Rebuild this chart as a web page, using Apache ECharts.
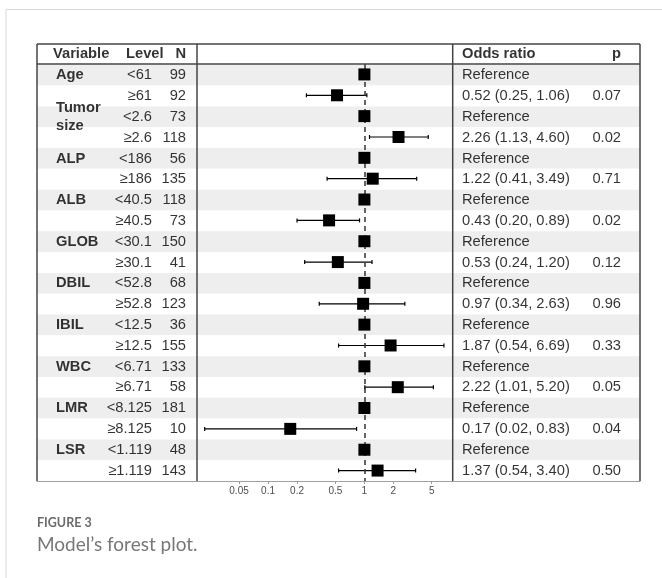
<!DOCTYPE html>
<html><head><meta charset="utf-8">
<script src="https://cdn.jsdelivr.net/npm/echarts@6/dist/echarts.min.js"></script>
<style>html,body{margin:0;padding:0;background:#fff}#c{width:662px;height:578px}</style>
</head><body><div id="c"></div>
<script>
// ---------------- data ----------------
const variables = ['Age', 'Tumor\nsize', 'ALP', 'ALB', 'GLOB', 'DBIL', 'IBIL', 'WBC', 'LMR', 'LSR'];
const levels = ['<61', '≥61', '<2.6', '≥2.6', '<186', '≥186', '<40.5', '≥40.5', '<30.1', '≥30.1',
  '<52.8', '≥52.8', '<12.5', '≥12.5', '<6.71', '≥6.71', '<8.125', '≥8.125', '<1.119', '≥1.119'];
const nValues = [99, 92, 73, 118, 56, 135, 118, 73, 150, 41, 68, 123, 36, 155, 133, 58, 181, 10, 48, 143];
const oddsRatio = [1, 0.52, 1, 2.26, 1, 1.22, 1, 0.43, 1, 0.53, 1, 0.97, 1, 1.87, 1, 2.22, 1, 0.17, 1, 1.37];
const ciLower = [null, 0.25, null, 1.13, null, 0.41, null, 0.20, null, 0.24, null, 0.34, null, 0.54, null, 1.01, null, 0.022, null, 0.54];
const ciUpper = [null, 1.06, null, 4.60, null, 3.49, null, 0.89, null, 1.20, null, 2.63, null, 6.69, null, 5.20, null, 0.83, null, 3.40];
const pValues = [null, 0.07, null, 0.02, null, 0.71, null, 0.02, null, 0.12, null, 0.96, null, 0.33, null, 0.05, null, 0.04, null, 0.50];
const axisTickValues = [0.05, 0.1, 0.2, 0.5, 1, 2, 5];
const headerTexts = { variable: 'Variable', level: 'Level', n: 'N', or: 'Odds ratio', p: 'p' };
const captionLabel = 'FIGURE 3';
const captionText = 'Model’s forest plot.';

// ---------------- layout ----------------
const T = { left: 37, right: 640, top: 44, head: 64, bottom: 481, sep1: 197, sep2: 452.7 };
const COL = { varHead: 53, varX: 56, levelHead: 126, levelR: 152, nR: 186, orX: 462, pR: 621 };
const FONT = '"Liberation Sans", Arial, Helvetica, sans-serif';
const FS = 14.7;
const xMin = 0.01831, xMax = 8.25;

const tableCats = ['header'].concat(levels);

function textSeries(name, items, align, bold, lineHeight) {
  const label = {
    show: true, position: align === 'left' ? 'right' : 'left', distance: 0,
    fontFamily: FONT, fontSize: FS, fontWeight: bold ? 'bold' : 'normal', color: '#000'
  };
  if (lineHeight) label.lineHeight = lineHeight;
  return {
    type: 'scatter', name, xAxisIndex: 0, yAxisIndex: 0, silent: true,
    symbolSize: 0, z: 10,
    data: items.map(it => ({ value: [it.x, it.row], label: { formatter: it.text } })),
    label
  };
}

const headerLeft = [
  { x: COL.varHead, row: 0, text: headerTexts.variable },
  { x: COL.levelHead, row: 0, text: headerTexts.level },
  { x: COL.orX, row: 0, text: headerTexts.or }
];
const headerRight = [
  { x: COL.nR, row: 0, text: headerTexts.n },
  { x: COL.pR, row: 0, text: headerTexts.p }
];
const varItems = variables.map((v, i) => ({ x: COL.varX, row: 1 + 2 * i, text: v }));
const levelItems = levels.map((l, i) => ({ x: COL.levelR, row: 1 + i, text: l }));
const nItems = nValues.map((n, i) => ({ x: COL.nR, row: 1 + i, text: String(n) }));
const orItems = oddsRatio.map((o, i) => ({
  x: COL.orX, row: 1 + i,
  text: ciLower[i] == null ? 'Reference' : `${o.toFixed(2)} (${ciLower[i].toFixed(2)}, ${ciUpper[i].toFixed(2)})`
}));
const pItems = [];
pValues.forEach((p, i) => { if (p != null) pItems.push({ x: COL.pR, row: 1 + i, text: p.toFixed(2) }); });

const ciData = [];
oddsRatio.forEach((o, i) => { if (ciLower[i] != null) ciData.push([ciLower[i], i, ciUpper[i]]); });
const pointData = oddsRatio.map((o, i) => [o, i]);

const lineStyle = { stroke: '#444', lineWidth: 1.5 };
function ln(x1, y1, x2, y2, style) {
  return { type: 'line', silent: true, z: 20, shape: { x1, y1, x2, y2 }, style: style || lineStyle };
}

const chart = echarts.init(document.getElementById('c'), null, { renderer: 'canvas' });
chart.setOption({
  animation: false,
  backgroundColor: '#fff',
  grid: [
    { left: T.left, top: T.top, width: T.right - T.left, height: T.bottom - T.top },
    { left: T.sep1, top: T.head, width: T.sep2 - T.sep1, height: T.bottom - T.head }
  ],
  xAxis: [
    { type: 'value', gridIndex: 0, min: T.left, max: T.right,
      axisLine: { show: true, lineStyle: { color: '#a0a0a0', width: 1 } },
      axisTick: { show: false }, axisLabel: { show: false }, splitLine: { show: false } },
    { type: 'log', gridIndex: 1, logBase: 10, min: xMin, max: xMax,
      axisLine: { show: false },
      axisTick: { show: true, customValues: axisTickValues, length: 3, lineStyle: { color: '#9a9a9a' } },
      axisLabel: { show: true, customValues: axisTickValues, margin: 5, fontSize: 10, fontFamily: FONT,
        color: '#4d4d4d', formatter: v => String(v) },
      splitLine: { show: false } }
  ],
  yAxis: [
    { type: 'category', gridIndex: 0, data: tableCats, inverse: true,
      axisLine: { show: false }, axisTick: { show: false }, axisLabel: { show: false },
      splitLine: { show: false },
      splitArea: { show: true, areaStyle: { color: ['#ffffff', '#eeeeee'] } } },
    { type: 'category', gridIndex: 1, data: levels, inverse: true,
      axisLine: { show: false }, axisTick: { show: false }, axisLabel: { show: false },
      splitLine: { show: false } }
  ],
  series: [
    textSeries('hdrL', headerLeft, 'left', true),
    textSeries('hdrR', headerRight, 'right', true),
    textSeries('var', varItems, 'left', true, 18),
    textSeries('level', levelItems, 'right', false),
    textSeries('n', nItems, 'right', false),
    textSeries('or', orItems, 'left', false),
    textSeries('p', pItems, 'right', false),
    {
      type: 'custom', name: 'ci', xAxisIndex: 1, yAxisIndex: 1, silent: true, z: 3,
      data: ciData,
      renderItem: function (params, api) {
        const row = api.value(1);
        const a = api.coord([api.value(0), row]);
        const b = api.coord([api.value(2), row]);
        const st = { stroke: '#000', lineWidth: 1.2 };
        return { type: 'group', children: [
          { type: 'line', shape: { x1: a[0], y1: a[1], x2: b[0], y2: b[1] }, style: st },
          { type: 'line', shape: { x1: a[0], y1: a[1] - 2, x2: a[0], y2: a[1] + 2 }, style: st },
          { type: 'line', shape: { x1: b[0], y1: b[1] - 2, x2: b[0], y2: b[1] + 2 }, style: st }
        ] };
      }
    },
    {
      type: 'scatter', name: 'refline', xAxisIndex: 1, yAxisIndex: 1, silent: true, z: 4,
      symbolSize: 0, data: pointData,
      markLine: {
        silent: true, symbol: 'none', label: { show: false },
        lineStyle: { color: '#333', width: 1.5, type: [5, 4] },
        data: [{ xAxis: 1 }]
      }
    },
    {
      type: 'scatter', name: 'or-point', xAxisIndex: 1, yAxisIndex: 1, silent: true, z: 6,
      symbol: 'rect', symbolSize: 12, itemStyle: { color: '#000', opacity: 1 },
      data: pointData
    }
  ],
  graphic: [
    ln(6, 9.5, 662, 9.5, { stroke: '#d8d8d8', lineWidth: 1 }),
    ln(6, 9.5, 6, 578, { stroke: '#d8d8d8', lineWidth: 1 }),
    ln(T.left, T.top, T.right, T.top),
    ln(T.left, T.top, T.left, T.bottom),
    ln(T.right, T.top, T.right, T.bottom),
    ln(T.left, T.head, T.right, T.head),
    ln(T.sep1, T.top, T.sep1, T.bottom),
    ln(T.sep2, T.top, T.sep2, T.bottom),
    { type: 'text', silent: true, left: 37, top: 516,
      style: { text: captionLabel, fontFamily: 'Lato, "Open Sans", sans-serif', fontWeight: 'bold',
        fontSize: 12.5, fill: '#6b6b6b' } },
    { type: 'text', silent: true, left: 37, top: 535,
      style: { text: captionText, fontFamily: 'Lato, "Open Sans", sans-serif',
        fontSize: 19, fill: '#777' } }
  ]
});
</script></body></html>
